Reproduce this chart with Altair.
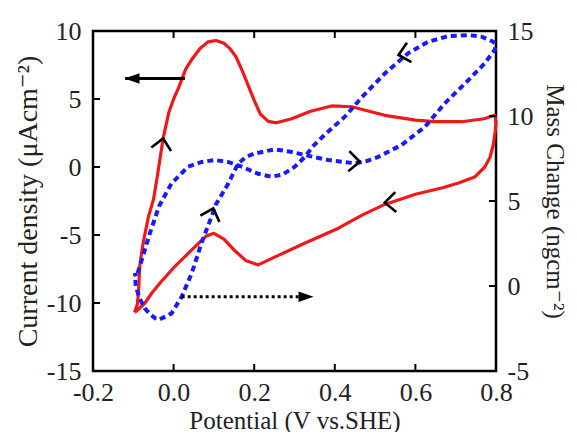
import altair as alt
import pandas as pd

# ---------------- data ----------------
# Current density loop (left axis, µA cm^-2)
red_x = [-0.097, -0.090, -0.087, -0.084, -0.078, -0.071, -0.062, -0.050, -0.040, -0.026,
         -0.012, 0.000, 0.012, 0.030, 0.045, 0.065, 0.085, 0.105, 0.125, 0.140,
         0.155, 0.170, 0.185, 0.200, 0.215, 0.235, 0.255, 0.293, 0.340, 0.392,
         0.442, 0.524, 0.600, 0.648, 0.715, 0.770, 0.797,
         0.800, 0.798, 0.793, 0.785, 0.772, 0.747, 0.707, 0.665, 0.600, 0.524,
         0.470, 0.409, 0.318, 0.260, 0.210, 0.180, 0.150, 0.125, 0.100, 0.080,
         0.045, 0.002, -0.030, -0.055, -0.071, -0.085, -0.097]
red_y = [-10.7, -10.1, -9.2, -7.3, -6.0, -4.9, -3.6, -2.4, -0.6, 2.1,
         4.0, 5.0, 5.8, 7.2, 7.9, 8.7, 9.2, 9.3, 9.1, 8.7,
         8.1, 7.1, 6.0, 4.9, 3.9, 3.35, 3.25, 3.55, 4.1, 4.49,
         4.43, 3.8, 3.45, 3.33, 3.33, 3.55, 3.8,
         3.3, 2.6, 1.6, 0.7, 0.0, -0.74, -1.18, -1.54, -2.0, -2.75,
         -3.5, -4.5, -5.7, -6.5, -7.2, -6.9, -6.1, -5.3, -4.88, -5.1,
         -6.1, -7.35, -8.4, -9.3, -10.0, -10.4, -10.7]

# Mass change loop (right axis, ng cm^-2)
blue_x = [-0.034, -0.005, 0.020, 0.045, 0.069, 0.094, 0.105, 0.120, 0.136, 0.160,
          0.180, 0.202, 0.251, 0.290, 0.326, 0.384, 0.417, 0.450, 0.480, 0.508,
          0.566, 0.624, 0.673, 0.731, 0.772, 0.797,
          0.799, 0.793, 0.764, 0.731, 0.682, 0.632, 0.582, 0.524, 0.467, 0.425,
          0.375, 0.345, 0.326, 0.300, 0.270, 0.243, 0.210, 0.169, 0.135, 0.1025,
          0.070, 0.036, -0.005, -0.020, -0.036, -0.059, -0.079, -0.092, -0.096,
          -0.094, -0.085, -0.072, -0.059, -0.045, -0.034]
blue_y = [-1.96, -1.61, -0.63, 0.75, 2.51, 4.08, 4.8, 5.4, 6.04, 7.2,
          7.6, 7.8, 8.04, 7.9, 7.7, 7.41, 7.31, 7.22, 7.35, 7.6,
          8.3, 9.37, 10.75, 12.1, 13.1, 13.9,
          14.2, 14.37, 14.67, 14.76, 14.7, 14.37, 13.69, 12.5, 11.1, 9.96,
          8.9, 8.2, 7.6, 7.0, 6.55, 6.43, 6.6, 7.02, 7.3, 7.41,
          7.3, 7.02, 6.04, 5.4, 4.7, 3.1, 1.53, 0.55, 0.75,
          0.0, -0.7, -1.3, -1.65, -1.9, -1.96]

# Direction chevrons on the curves
red_chev_x = [-0.026, 0.524]
red_chev_y = [2.1, -2.62]
red_chev_angle = [280, 177]
blue_chev_x = [0.0985, 0.462, 0.558]
blue_chev_y = [4.57, 7.31, 13.59]
blue_chev_angle = [288, 3, 167]

# Black axis-pointer arrows (tail, tip)
left_arrow_x = [0.028, -0.120]
left_arrow_y = [6.5, 6.5]
right_arrow_x = [0.020, 0.310]
right_arrow_y = [-0.63, -0.63]

# Axis ticks / labels
x_ticks = [-0.2, 0.0, 0.2, 0.4, 0.6, 0.8]
x_inner = [0.0, 0.2, 0.4, 0.6]
left_ticks = [-15, -10, -5, 0, 5, 10]
left_inner = [-10, -5, 0, 5]
right_ticks = [-5, 0, 5, 10, 15]
right_inner = [0, 5, 10]

# ---------------- chart ----------------
W, H = 403, 340
RED = "#f01818"
BLUE = "#1a1aff"
FONT = "'Liberation Serif', 'Times New Roman', 'DejaVu Serif', serif"

xs = alt.Scale(domain=[-0.2, 0.8], nice=False, zero=False)
yl = alt.Scale(domain=[-15, 10], nice=False, zero=False)
yr = alt.Scale(domain=[-5, 15], nice=False, zero=False)

x_lab = "datum.value < 0 ? '-' + format(-datum.value, '.1f') : format(datum.value, '.1f')"
y_lab = "datum.value < 0 ? '-' + format(-datum.value, 'd') : format(datum.value, 'd')"

red_df = pd.DataFrame({"i": range(len(red_x)), "x": red_x, "y": red_y})
blue_df = pd.DataFrame({"i": range(len(blue_x)), "x": blue_x, "y": blue_y})

red = alt.Chart(red_df).mark_line(color=RED, strokeWidth=3.2, strokeJoin="round").encode(
    x=alt.X("x:Q", scale=xs, axis=alt.Axis(values=x_ticks, labelExpr=x_lab, labelPadding=8,
                                           orient="bottom", titleFontSize=25,
                                           title="Potential (V vs.SHE)", titlePadding=3)),
    y=alt.Y("y:Q", scale=yl, axis=alt.Axis(values=left_ticks, labelExpr=y_lab, labelPadding=12,
                                           orient="left", title="Current density (μAcm⁻²)",
                                           titlePadding=4)),
    order="i:Q",
)

chev_shape = "M-1.1,-1L0,0L-1.1,1"
red_chev = alt.Chart(pd.DataFrame({"x": red_chev_x, "y": red_chev_y, "a": red_chev_angle})).mark_point(
    shape=chev_shape, size=400, filled=False, color="black", strokeWidth=2.6, opacity=1
).encode(x=alt.X("x:Q", scale=xs, axis=None), y=alt.Y("y:Q", scale=yl, axis=None),
         angle=alt.Angle("a:Q", scale=None))

larrow_df = pd.DataFrame({"i": [0, 1], "x": left_arrow_x, "y": left_arrow_y})
larrow_line = alt.Chart(larrow_df).mark_line(color="black", strokeWidth=3).encode(
    x=alt.X("x:Q", scale=xs, axis=None), y=alt.Y("y:Q", scale=yl, axis=None), order="i:Q")
larrow_head = alt.Chart(larrow_df[larrow_df.i == 1]).mark_point(
    shape="M-0.1,0L1.9,-0.7L1.9,0.7Z", size=225, filled=True, color="black", opacity=1
).encode(x=alt.X("x:Q", scale=xs, axis=None), y=alt.Y("y:Q", scale=yl, axis=None))

tick_style = dict(color="black", thickness=2, size=7, opacity=1)
bottom_t = alt.Chart(pd.DataFrame({"v": x_inner})).mark_tick(orient="vertical", **tick_style).encode(
    x=alt.X("v:Q", scale=xs, axis=None), y=alt.value(H - 3.5))
top_t = alt.Chart(pd.DataFrame({"v": x_inner})).mark_tick(orient="vertical", **tick_style).encode(
    x=alt.X("v:Q", scale=xs, axis=None), y=alt.value(3.5))
left_t = alt.Chart(pd.DataFrame({"v": left_inner})).mark_tick(orient="horizontal", **tick_style).encode(
    y=alt.Y("v:Q", scale=yl, axis=None), x=alt.value(3.5))

blue = alt.Chart(blue_df).mark_line(color=BLUE, strokeWidth=4, strokeDash=[6, 4]).encode(
    x=alt.X("x:Q", scale=xs, axis=None),
    y=alt.Y("y:Q", scale=yr, axis=alt.Axis(values=right_ticks, labelExpr=y_lab, labelPadding=11,
                                           orient="right", title="Mass Change (ngcm⁻²)",
                                           titleFontSize=25, titlePadding=8)),
    order="i:Q",
)
blue_chev = alt.Chart(pd.DataFrame({"x": blue_chev_x, "y": blue_chev_y, "a": blue_chev_angle})).mark_point(
    shape=chev_shape, size=400, filled=False, color="black", strokeWidth=2.6, opacity=1
).encode(x=alt.X("x:Q", scale=xs, axis=None), y=alt.Y("y:Q", scale=yr, axis=None),
         angle=alt.Angle("a:Q", scale=None))

rarrow_df = pd.DataFrame({"i": [0, 1], "x": right_arrow_x, "y": right_arrow_y})
rarrow_line = alt.Chart(rarrow_df).mark_line(color="black", strokeWidth=3, strokeDash=[3, 3]).encode(
    x=alt.X("x:Q", scale=xs, axis=None), y=alt.Y("y:Q", scale=yr, axis=None), order="i:Q")
rarrow_head = alt.Chart(rarrow_df[rarrow_df.i == 1]).mark_point(
    shape="M2,0L0,-0.7L0,0.7Z", size=225, filled=True, color="black", opacity=1
).encode(x=alt.X("x:Q", scale=xs, axis=None), y=alt.Y("y:Q", scale=yr, axis=None))
right_t = alt.Chart(pd.DataFrame({"v": right_inner})).mark_tick(orient="horizontal", **tick_style).encode(
    y=alt.Y("v:Q", scale=yr, axis=None), x=alt.value(W - 3.5))

chart = alt.layer(
    red, blue, red_chev, blue_chev, larrow_line, larrow_head, rarrow_line, rarrow_head,
    bottom_t, top_t, left_t, right_t
).resolve_scale(x="independent", y="independent").properties(
    width=W, height=H,
    autosize=alt.AutoSizeParams(type="none"),
    padding={"left": 85, "top": 23, "right": 72, "bottom": 61},
    background="white",
).configure_view(
    stroke="black", strokeWidth=2.5
).configure_axis(
    ticks=False, domain=False, grid=False, labelFont=FONT, labelFontSize=26,
    labelColor="#222", titleFont=FONT, titleFontSize=28, titleFontWeight="normal",
    titleColor="#222", labelFlush=False, labelOverlap=False
)

chart.save("out.html", embed_options={"renderer": "svg", "actions": False})
